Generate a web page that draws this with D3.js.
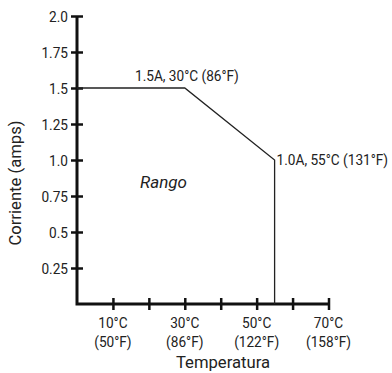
<!DOCTYPE html>
<html>
<head>
<meta charset="utf-8">
<script src="https://cdn.jsdelivr.net/npm/d3@7"></script>
<style>
  html, body { margin: 0; padding: 0; background: #fff; }
  svg text { font-family: "Roboto", "Noto Sans", sans-serif; fill: #222; }
</style>
</head>
<body>
<svg id="chart" width="392" height="373"></svg>
<script>
// Current derating curve: temperature (°C) vs. current (A)
const tempC = [0, 30, 55, 55];
const currentA = [1.5, 1.5, 1.0, 0];

// Axis ticks
const yTicks = [0.25, 0.5, 0.75, 1.0, 1.25, 1.5, 1.75, 2.0];
const yTickLabels = ["0.25", "0.5", "0.75", "1.0", "1.25", "1.5", "1.75", "2.0"];
const xTicks = [10, 20, 30, 40, 50, 60, 70];
const xLabelTemps = [10, 30, 50, 70];
const xLabelC = ["10°C", "30°C", "50°C", "70°C"];
const xLabelF = ["(50°F)", "(86°F)", "(122°F)", "(158°F)"];

// Point annotations
const notes = [
  { t: 30, a: 1.5, text: "1.5A, 30°C (86°F)" },
  { t: 55, a: 1.0, text: "1.0A, 55°C (131°F)" }
];

const svg = d3.select("#chart");
const x = d3.scaleLinear().domain([0, 70]).range([77, 328.5]);
const y = d3.scaleLinear().domain([0, 2]).range([304, 16]);

// Label helper: text squeezed horizontally by `sx`, placed at (px, py)
function label(parent, px, py, txt, size, anchor, sx, rotate) {
  const rot = rotate ? ` rotate(${rotate})` : "";
  return parent.append("text")
    .attr("transform", `translate(${px},${py})${rot} scale(${sx},1)`)
    .attr("text-anchor", anchor || "start")
    .style("font-size", size + "px")
    .text(txt);
}
const SMALL = 15.5, NARROW = 0.88;

// Axes: ticks cross the axis line on both sides
const yAxis = d3.axisLeft(y).tickValues(yTicks)
  .tickFormat("").tickSizeOuter(0).tickSizeInner(6);
const gy = svg.append("g").attr("transform", `translate(${x(0)},0)`).call(yAxis);
gy.select(".domain").remove();
gy.selectAll(".tick line").attr("x2", 6).attr("x1", -6).attr("stroke", "#111").attr("stroke-width", 2.5);
yTicks.forEach((v, i) => label(svg, x(0) - 9, y(v) + 5.5, yTickLabels[i], SMALL, "end", NARROW));

const xAxis = d3.axisBottom(x).tickValues(xTicks).tickFormat("").tickSizeOuter(0).tickSizeInner(6);
const gx = svg.append("g").attr("transform", `translate(0,${y(0)})`).call(xAxis);
gx.select(".domain").remove();
gx.selectAll(".tick line").attr("y1", -6).attr("y2", 6).attr("stroke", "#111").attr("stroke-width", 2.5);

// Axis lines
svg.append("path")
  .attr("d", `M${x(0)},${y(2)}V${y(0)}H${x(70)}`)
  .attr("fill", "none").attr("stroke", "#111").attr("stroke-width", 3);

// Derating curve
const line = d3.line().x((d, i) => x(tempC[i])).y((d, i) => y(currentA[i]));
svg.append("path").datum(tempC)
  .attr("d", line)
  .attr("fill", "none").attr("stroke", "#222").attr("stroke-width", 1.3);

// X tick labels (°C and °F)
xLabelTemps.forEach((t, i) => {
  label(svg, x(t), 327.5, xLabelC[i], SMALL, "middle", NARROW);
  label(svg, x(t), 347, xLabelF[i], SMALL, "middle", NARROW);
});

// Axis titles
label(svg, 223, 368, "Temperatura", 17, "middle", 0.98);
label(svg, 21, 183, "Corriente (amps)", 17, "middle", 0.98, -90);

// Annotations
label(svg, 135, y(notes[0].a) - 7, notes[0].text, SMALL, "start", NARROW);
label(svg, x(notes[1].t) + 2, y(notes[1].a) + 5, notes[1].text, SMALL, "start", NARROW);

// Region label
svg.append("text").attr("x", 140).attr("y", 188)
  .style("font-size", "17px").style("font-style", "italic").text("Rango");
</script>
</body>
</html>
